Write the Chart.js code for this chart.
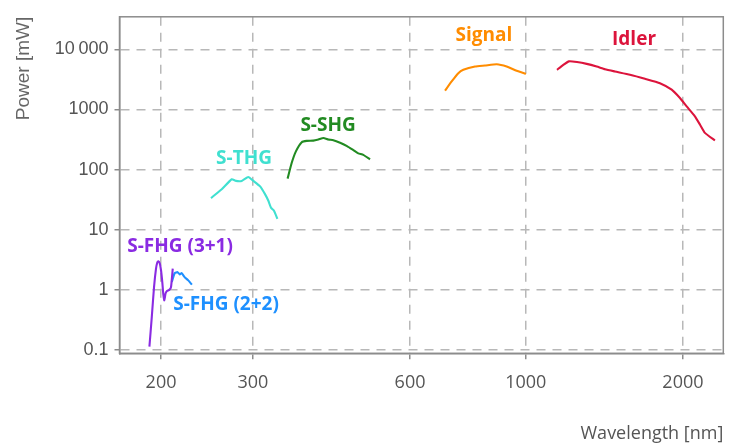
<!DOCTYPE html>
<html><head><meta charset="utf-8">
<script src="https://cdn.jsdelivr.net/npm/chart.js@4.4.1/dist/chart.umd.min.js"></script>
<style>html,body{margin:0;padding:0;background:#fff}#wrap{width:730px;height:445px}</style>
</head><body><div id="wrap"><canvas id="c" width="730" height="445"></canvas></div>
<script>
// ---- data (wavelength in nm, power in mW) ----
const fhg31Wavelength = [190.0, 192.0, 193.9, 195.6, 196.7, 197.6, 198.9, 200.0, 201.2, 202.0, 202.9, 204.0, 205.1, 207.4, 209.0, 210.6];
const fhg31Power      = [0.114, 0.356, 1.11, 2.25, 2.85, 3.0, 2.75, 2.1, 1.28, 0.84, 0.67, 0.87, 0.95, 1.0, 1.11, 2.25];

const fhg22Wavelength = [209.7, 212.4, 215.2, 217.3, 219.0, 221.9, 225.5, 229.2];
const fhg22Power      = [1.35, 1.90, 1.97, 1.81, 1.90, 1.63, 1.44, 1.22];

const thgWavelength = [249.3, 261.4, 273.2, 278.4, 285.5, 293.9, 300.6, 309.6, 316.4, 321.1, 324.9, 329.2, 334.1];
const thgPower      = [33.6, 47.2, 69.2, 64.9, 64.9, 75.4, 64.9, 52.6, 39.1, 30.3, 23.2, 20.7, 15.2];

const shgWavelength = [349.5, 356.0, 362.8, 372.1, 380.4, 391.6, 400.4, 409.3, 418.4, 427.7, 440.6, 454.3, 467.1, 477.5, 488.2, 502.8];
const shgPower      = [70.8, 130, 203, 286, 300, 303, 317, 336, 317, 307, 279, 246, 211, 186, 176, 148];

const signalWavelength = [700.0, 721.0, 742.4, 759.0, 799.1, 835.1, 879.4, 918.9, 960.3, 1000.7];
const signalPower      = [2051, 2923, 4010, 4564, 5176, 5375, 5648, 5176, 4393, 3917];

const idlerWavelength = [1147.5, 1179.7, 1209.9, 1253.2, 1308.1, 1366.9, 1418.0, 1481.9, 1583.3, 1691.4, 1807.2, 1903.1, 1974.0, 2033.2, 2108.6, 2156, 2204, 2303];
const idlerPower      = [4564, 5521, 6306, 6143, 5735, 5176, 4670, 4278, 3772, 3238, 2739, 2131, 1548, 1128, 770, 562, 408, 305];

const seriesNames = ['S-FHG (3+1)', 'S-FHG (2+2)', 'S-THG', 'S-SHG', 'Signal', 'Idler'];
const seriesColors = ['#8A2BE2', '#1E90FF', '#40E0D0', '#228B22', '#FF8C00', '#DC143C'];
// label anchors in data units
const labelWavelength = [217.5, 266.4, 288.4, 417.9, 831, 1612];
const labelPower      = [5.25, 0.577, 150, 547, 16860, 14450];

const xTickValues = [200, 300, 600, 1000, 2000];
const xTickLabels = ['200', '300', '600', '1000', '2000'];
const yTickValues = [0.1, 1, 10, 100, 1000, 10000];
const yTickLabels = ['0.1', '1', '10', '100', '1000', '10\u2009000'];

const xTitle = 'Wavelength [nm]';
const yTitle = 'Power [mW]';

// ---- build chart ----
const seriesX = [fhg31Wavelength, fhg22Wavelength, thgWavelength, shgWavelength, signalWavelength, idlerWavelength];
const seriesY = [fhg31Power, fhg22Power, thgPower, shgPower, signalPower, idlerPower];

const datasets = seriesNames.map((name, i) => ({
  label: name,
  data: seriesX[i].map((w, k) => ({x: w, y: seriesY[i][k]})),
  borderColor: seriesColors[i],
  backgroundColor: seriesColors[i],
  borderWidth: 2.1,
  pointRadius: 0,
  tension: 0.15,
  fill: false
}));

const labelPlugin = {
  id: 'seriesLabels',
  afterDatasetsDraw(chart) {
    const {ctx, scales: {x, y}} = chart;
    ctx.save();
    ctx.font = 'bold 19px "Open Sans"';
    ctx.textAlign = 'center';
    ctx.textBaseline = 'middle';
    seriesNames.forEach((n, i) => {
      ctx.fillStyle = seriesColors[i];
      ctx.fillText(n, x.getPixelForValue(labelWavelength[i]), y.getPixelForValue(labelPower[i]));
    });
    ctx.restore();
  }
};

const framePlugin = {
  id: 'frame',
  afterDraw(chart) {
    const {ctx, chartArea: a} = chart;
    ctx.save();
    ctx.strokeStyle = '#8c8c8c';
    ctx.lineWidth = 1.5;
    ctx.strokeRect(a.left, a.top, a.right - a.left, a.bottom - a.top);
    ctx.restore();
  }
};

new Chart(document.getElementById('c'), {
  type: 'line',
  data: {datasets},
  plugins: [labelPlugin, framePlugin],
  options: {
    responsive: false,
    animation: false,
    devicePixelRatio: 1,
    layout: {padding: {top: 15, right: 6.7, left: 0, bottom: 0}},
    plugins: {legend: {display: false}, tooltip: {enabled: false}},
    scales: {
      x: {
        type: 'logarithmic',
        min: 166.5, max: 2390,
        bounds: 'data',
        afterBuildTicks(s) { s.ticks = xTickValues.map(v => ({value: v})); },
        afterFit(s) { s.height = 91.7; },
        ticks: {
          autoSkip: false, maxRotation: 0,
          callback: (v, i) => xTickLabels[i],
          color: '#555', font: {family: '"Open Sans"', size: 18}, padding: 13
        },
        grid: {color: '#b8b8b8', lineWidth: 1.5, tickLength: 6, tickColor: '#8c8c8c', tickWidth: 1.5, tickBorderDash: []},
        border: {display: true, color: '#8c8c8c', width: 1.5, dash: [9, 7]},
        title: {display: true, text: xTitle, align: 'end', color: '#555', font: {family: '"Open Sans"', size: 18}, padding: {top: 0, bottom: 0}}
      },
      y: {
        type: 'logarithmic',
        min: 0.0882, max: 34750,
        bounds: 'data',
        afterBuildTicks(s) { s.ticks = yTickValues.map(v => ({value: v})); },
        afterFit(s) { s.width = 119.5; },
        ticks: {
          autoSkip: false,
          callback: (v, i) => yTickLabels[i],
          color: '#555', font: {family: '"Liberation Sans"', size: 18}, padding: 6
        },
        grid: {color: '#b8b8b8', lineWidth: 1.5, tickLength: 5, tickColor: '#8c8c8c', tickWidth: 1.5, tickBorderDash: []},
        border: {display: true, color: '#8c8c8c', width: 1.5, dash: [9, 7]},
        title: {display: true, text: yTitle, align: 'end', color: '#666', font: {family: '"Liberation Sans"', size: 19}, padding: {top: 12, bottom: 0}}
      }
    }
  }
});
</script>
</body></html>
